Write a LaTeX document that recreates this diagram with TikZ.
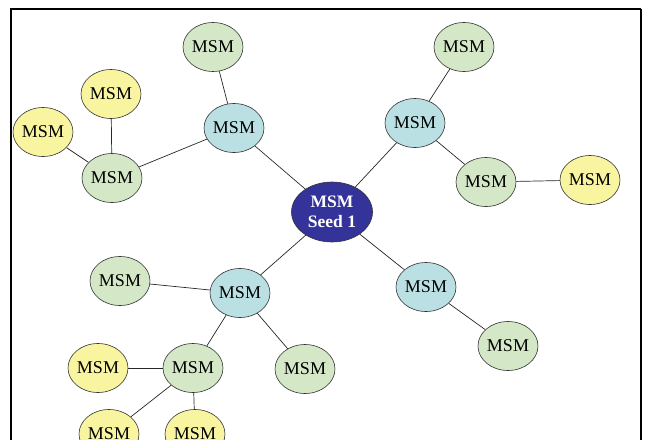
\documentclass[tikz,border=0pt]{standalone}
\usepackage{fontspec}
\setmainfont{Liberation Serif}
\usetikzlibrary{shapes.geometric}

\definecolor{seedblue}{RGB}{51,51,153}
\definecolor{hubcyan}{RGB}{186,224,228}
\definecolor{leafgreen}{RGB}{212,232,200}
\definecolor{tipyellow}{RGB}{248,244,160}

\begin{document}
\begin{tikzpicture}[x=1pt, y=-1pt,
    msm/.style={ellipse, draw=black!80, line width=0.6pt, minimum width=60pt,
      minimum height=49pt, inner sep=0pt, font=\fontsize{18}{20}\selectfont},
    hub/.style={msm, fill=hubcyan},
    leaf/.style={msm, fill=leafgreen},
    tip/.style={msm, fill=tipyellow},
    link/.style={line width=0.7pt, black!85}]
    \useasboundingbox (0,0) rectangle (645,439);
    \clip (0,0) rectangle (645,439);
    \draw[line width=2pt] (11,441) -- (11,9) -- (641,9);
    \draw[line width=1.2pt] (641,9) -- (641,441);

    \node[ellipse, draw=black!80, line width=0.6pt, fill=seedblue, text=white,
      minimum width=81pt, minimum height=60pt, inner sep=0pt, align=center,
      font=\bfseries\fontsize{17.5}{20}\selectfont] (seed) at (332,212) {MSM\\Seed 1};

    \node[hub] (c1) at (234,128) {MSM};
    \node[hub] (c2) at (415,123) {MSM};
    \node[hub] (c3) at (240,293) {MSM};
    \node[hub] (c4) at (426,287) {MSM};

    \node[leaf] (g1) at (213,47) {MSM};
    \node[leaf] (g2) at (112,178) {MSM};
    \node[leaf] (g3) at (464,47) {MSM};
    \node[leaf] (g4) at (486,182) {MSM};
    \node[leaf] (g5) at (120,281) {MSM};
    \node[leaf] (g6) at (193,368) {MSM};
    \node[leaf] (g7) at (305,369) {MSM};
    \node[leaf] (g8) at (508,346) {MSM};

    \node[tip] (y1) at (111,94) {MSM};
    \node[tip] (y2) at (43,132) {MSM};
    \node[tip] (y3) at (590,180) {MSM};
    \node[tip] (y4) at (98,368) {MSM};
    \node[tip] (y5) at (109,434) {MSM};
    \node[tip] (y6) at (195,434) {MSM};

    \draw[link] (seed) -- (c1);
    \draw[link] (seed) -- (c2);
    \draw[link] (seed) -- (c3);
    \draw[link] (seed) -- (c4);
    \draw[link] (c1) -- (g1);
    \draw[link] (c1) -- (g2);
    \draw[link] (g2) -- (y1);
    \draw[link] (g2) -- (y2);
    \draw[link] (c2) -- (g3);
    \draw[link] (c2) -- (g4);
    \draw[link] (g4) -- (y3);
    \draw[link] (c3) -- (g5);
    \draw[link] (c3) -- (g6);
    \draw[link] (c3) -- (g7);
    \draw[link] (g6) -- (y4);
    \draw[link] (g6) -- (y5);
    \draw[link] (g6) -- (y6);
    \draw[link] (c4) -- (g8);
\end{tikzpicture}
\end{document}
